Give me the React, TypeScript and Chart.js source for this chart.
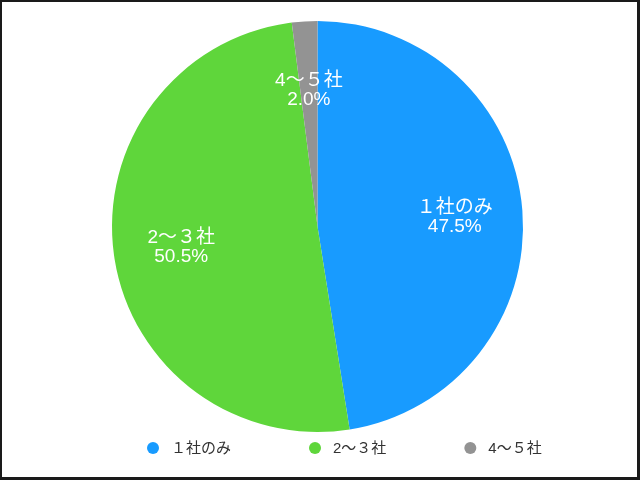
import { useEffect, useRef } from "react";
import { Chart, registerables } from "chart.js";

Chart.register(...registerables);

const labels = ["１社のみ", "2～３社", "4～５社"];
const values = [47.5, 50.5, 2.0];
const colors = ["#189BFF", "#5FD63B", "#939393"];

const FONT = '"Liberation Sans", "Noto Sans CJK JP", sans-serif';

// white labels inside each slice
const sliceLabels = {
  id: "sliceLabels",
  afterDatasetsDraw(chart: Chart) {
    const { ctx } = chart;
    const meta = chart.getDatasetMeta(0);
    ctx.save();
    ctx.fillStyle = "#ffffff";
    ctx.font = `19px ${FONT}`;
    ctx.textAlign = "center";
    ctx.textBaseline = "middle";
    meta.data.forEach((arc: any, i) => {
      const { x, y, startAngle, endAngle, outerRadius } = arc.getProps(
        ["x", "y", "startAngle", "endAngle", "outerRadius"],
        true
      );
      const mid = (startAngle + endAngle) / 2;
      const r = outerRadius * 0.67;
      const cx = x + Math.cos(mid) * r;
      const cy = y + Math.sin(mid) * r;
      ctx.fillText(labels[i], cx, cy - 8);
      ctx.fillText(values[i].toFixed(1) + "%", cx, cy + 11);
    });
    ctx.restore();
  },
};

// legend row under the pie
const bottomLegend = {
  id: "bottomLegend",
  afterDraw(chart: Chart) {
    const { ctx } = chart;
    ctx.save();
    ctx.font = `15px ${FONT}`;
    ctx.textBaseline = "middle";
    ctx.textAlign = "left";
    let x = 145;
    const y = 446;
    labels.forEach((l, i) => {
      ctx.fillStyle = colors[i];
      ctx.beginPath();
      ctx.arc(x + 6, y, 6, 0, Math.PI * 2);
      ctx.fill();
      ctx.fillStyle = "#333333";
      ctx.fillText(l, x + 24, y + 1);
      x += 24 + ctx.measureText(l).width + 78;
    });
    ctx.restore();
  },
};

export default function App() {
  const ref = useRef<HTMLCanvasElement>(null);

  useEffect(() => {
    const canvas = ref.current;
    if (!canvas) return;
    const chart = new Chart(canvas, {
      type: "pie",
      data: {
        labels,
        datasets: [
          {
            data: values,
            backgroundColor: colors,
            borderWidth: 0,
          },
        ],
      },
      options: {
        animation: false,
        responsive: false,
        layout: { padding: { top: 19, bottom: 45, left: 0, right: 4 } },
        plugins: {
          legend: { display: false },
          tooltip: { enabled: false },
        },
      },
      plugins: [sliceLabels, bottomLegend],
    });
    return () => chart.destroy();
  }, []);

  return (
    <div
      style={{
        position: "fixed",
        left: 0,
        top: 0,
        width: 640,
        height: 480,
        boxSizing: "border-box",
        borderStyle: "solid",
        borderColor: "#1a1a1a",
        borderWidth: "2px 3px 3px 2px",
        background: "#fff",
      }}
    >
      <canvas ref={ref} width={635} height={475} style={{ display: "block" }} />
    </div>
  );
}
